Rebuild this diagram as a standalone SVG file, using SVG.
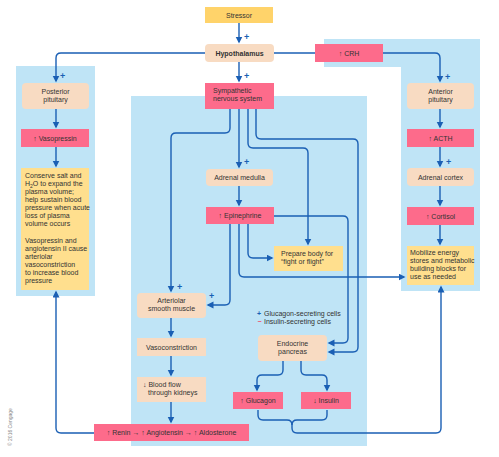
<svg xmlns="http://www.w3.org/2000/svg" width="499" height="457" viewBox="0 0 499 457">
<defs>
<marker id="ah" markerUnits="userSpaceOnUse" markerWidth="8" markerHeight="8" refX="5.5" refY="3.5" orient="auto">
<path d="M0 0 L7 3.5 L0 7 z" fill="#1a5fb4"/>
</marker>
<style>
.panel{fill:#bfe4f6}
.pink{fill:#fd6b8b}
.peach{fill:#f8dbc2}
.yellow{fill:#ffdf8e}
.stress{fill:#ffd36a}
text{font-family:"Liberation Sans",Arial,sans-serif;font-size:7px;fill:#333}
.c{text-anchor:middle}
.b{font-weight:bold}
.plus{font-size:9px;font-weight:bold;fill:#1a5fb4}
.lp{font-size:7px;font-weight:bold;fill:#1a5fb4}
.lm{font-size:7px;font-weight:bold;fill:#f0506e}
#connectors path{fill:none;stroke:#1a5fb4;stroke-width:1.4}
.arr{marker-end:url(#ah)}
</style>
</defs>
<rect width="499" height="457" fill="#fff"/>
<g id="panels">
<rect class="panel" x="16" y="66" width="79" height="230"/>
<rect class="panel" x="131" y="96" width="236" height="350"/>
<path class="panel" d="M324 39 H480 V291 H401 V67 H324 Z"/>
</g>
<g id="connectors">
<path class="arr" d="M239 23 V42"/>
<path class="arr" d="M239 62 V81"/>
<path class="arr" d="M205 53 H61 Q56 53 56 58 V81"/>
<path d="M274 53 H315"/>
<path class="arr" d="M383 53 H435 Q440 53 440 58 V81"/>
<path class="arr" d="M56 109 V127"/>
<path class="arr" d="M56 147 V166"/>
<path class="arr" d="M94 433 H61 Q56 433 56 428 V292"/>
<path class="arr" d="M440 109 V127"/>
<path class="arr" d="M440 147 V166"/>
<path class="arr" d="M440 186 V205"/>
<path class="arr" d="M440 225 V244"/>
<path class="arr" d="M292 428 Q292 433 297 433 H436 Q441 433 441 428 V287"/>
<path d="M258 410 V415 Q258 420 263 420 H287 Q292 420 292 425 V428"/>
<path d="M327 410 V415 Q327 420 322 420 H297 Q292 420 292 425"/>
<path class="arr" d="M230 109 V128 Q230 133 225 133 H176 Q171 133 171 138 V291"/>
<path class="arr" d="M239 109 V167"/>
<path class="arr" d="M248 109 V143 Q248 148 253 148 H303 Q308 148 308 153 V244"/>
<path class="arr" d="M256 109 V134 Q256 139 261 139 H353 Q358 139 358 144 V347 Q358 352 353 352 H329"/>
<path class="arr" d="M239 186 V205"/>
<path class="arr" d="M274 216 H343 Q348 216 348 221 V338 Q348 343 343 343 H329"/>
<path class="arr" d="M230 224 V300 Q230 305 225 305 H208"/>
<path class="arr" d="M239 224 V272 Q239 277 244 277 H404"/>
<path class="arr" d="M248 224 V253 Q248 258 253 258 H272"/>
<path class="arr" d="M171 318 V336"/>
<path class="arr" d="M171 356 V375"/>
<path class="arr" d="M171 402 V422"/>
<path class="arr" d="M283 361 V370 Q283 375 278 375 H262 Q257 375 257 380 V390"/>
<path class="arr" d="M301 361 V370 Q301 375 306 375 H322 Q327 375 327 380 V390"/>
</g>
<g id="signs">
<text class="plus" x="244" y="40">+</text>
<text class="plus" x="244" y="79">+</text>
<text class="plus" x="60" y="79">+</text>
<text class="plus" x="445" y="80">+</text>
<text class="plus" x="446" y="165">+</text>
<text class="plus" x="244" y="165">+</text>
<text class="plus" x="177" y="290">+</text>
<text class="plus" x="209" y="299">+</text>
</g>
<g id="stressor"><rect class="stress" x="205" y="7" width="68" height="16"/><text class="c" x="239" y="17.5">Stressor</text></g>
<g id="hypothalamus"><rect class="peach" x="205" y="44" width="69" height="18" rx="4"/><text class="c b" x="239.5" y="55.5">Hypothalamus</text></g>
<g id="crh"><rect class="pink" x="315" y="44" width="68" height="18"/><text class="c" x="349" y="55.5">↑ CRH</text></g>
<g id="sympathetic"><rect class="pink" x="205" y="83" width="69" height="26"/><text x="213" y="93">Sympathetic</text><text x="213" y="101">nervous system</text></g>
<g id="posterior"><rect class="peach" x="22" y="83" width="67" height="26" rx="4"/><text class="c" x="55.5" y="94">Posterior</text><text class="c" x="55.5" y="102">pituitary</text></g>
<g id="vasopressin"><rect class="pink" x="21" y="129" width="68" height="18"/><text class="c" x="55" y="140.5">↑ Vasopressin</text></g>
<g id="conserve"><rect class="yellow" x="21" y="168" width="68" height="122"/>
<text x="25" y="178">Conserve salt and</text>
<text x="25" y="186">H<tspan font-size="5" dy="1.5">2</tspan><tspan dy="-1.5">O to expand the</tspan></text>
<text x="25" y="194">plasma volume;</text>
<text x="25" y="202">help sustain blood</text>
<text x="25" y="210">pressure when acute</text>
<text x="25" y="218">loss of plasma</text>
<text x="25" y="226">volume occurs</text>
<text x="25" y="243">Vasopressin and</text>
<text x="25" y="251">angiotensin II cause</text>
<text x="25" y="259">arteriolar</text>
<text x="25" y="267">vasoconstriction</text>
<text x="25" y="275">to increase blood</text>
<text x="25" y="283">pressure</text>
</g>
<g id="anterior"><rect class="peach" x="407" y="83" width="67" height="26" rx="4"/><text class="c" x="440.5" y="94">Anterior</text><text class="c" x="440.5" y="102">pituitary</text></g>
<g id="acth"><rect class="pink" x="407" y="129" width="67" height="18"/><text class="c" x="440.5" y="140.5">↑ ACTH</text></g>
<g id="cortex"><rect class="peach" x="407" y="168" width="67" height="18" rx="4"/><text class="c" x="440.5" y="179.5">Adrenal cortex</text></g>
<g id="cortisol"><rect class="pink" x="407" y="207" width="67" height="18"/><text class="c" x="440.5" y="218.5">↑ Cortisol</text></g>
<g id="mobilize"><rect class="yellow" x="407" y="246" width="67" height="39"/>
<text x="410" y="255">Mobilize energy</text>
<text x="410" y="263">stores and metabolic</text>
<text x="410" y="271">building blocks for</text>
<text x="410" y="279">use as needed</text>
</g>
<g id="medulla"><rect class="peach" x="206" y="169" width="67" height="17" rx="4"/><text class="c" x="239.5" y="180">Adrenal medulla</text></g>
<g id="epinephrine"><rect class="pink" x="206" y="207" width="68" height="17"/><text class="c" x="240" y="218">↑ Epinephrine</text></g>
<g id="prepare"><rect class="yellow" x="274" y="246" width="69" height="25"/><text x="281" y="256">Prepare body for</text><text x="281" y="264">“fight or flight”</text></g>
<g id="arteriolar"><rect class="peach" x="137" y="293" width="69" height="25" rx="4"/><text class="c" x="171.5" y="303">Arteriolar</text><text class="c" x="171.5" y="311">smooth muscle</text></g>
<g id="vasoconstriction"><rect class="peach" x="137" y="338" width="69" height="18"/><text class="c" x="171.5" y="349.5">Vasoconstriction</text></g>
<g id="bloodflow"><rect class="peach" x="137" y="377" width="69" height="25"/><text x="143" y="387">↓ Blood flow</text><text x="148" y="395">through kidneys</text></g>
<g id="renin"><rect class="pink" x="94" y="424" width="155" height="17"/><text class="c" x="171.5" y="435">↑ Renin → ↑ Angiotensin → ↑ Aldosterone</text></g>
<g id="legend"><text class="lp" x="257" y="316">+</text><text x="264" y="316">Glucagon-secreting cells</text><text class="lm" x="257.5" y="324">−</text><text x="264" y="324">Insulin-secreting cells</text></g>
<g id="pancreas"><rect class="peach" x="258" y="335" width="69" height="26" rx="4"/><text class="c" x="292.5" y="346">Endocrine</text><text class="c" x="292.5" y="354">pancreas</text></g>
<g id="glucagon"><rect class="pink" x="233" y="392" width="50" height="17"/><text class="c" x="258" y="403">↑ Glucagon</text></g>
<g id="insulin"><rect class="pink" x="301" y="392" width="50" height="17"/><text class="c" x="326" y="403">↓ Insulin</text></g>
<text x="12" y="446" transform="rotate(-90 12 446)" style="font-size:5px;fill:#888">© 2016 Cengage</text>
</svg>
